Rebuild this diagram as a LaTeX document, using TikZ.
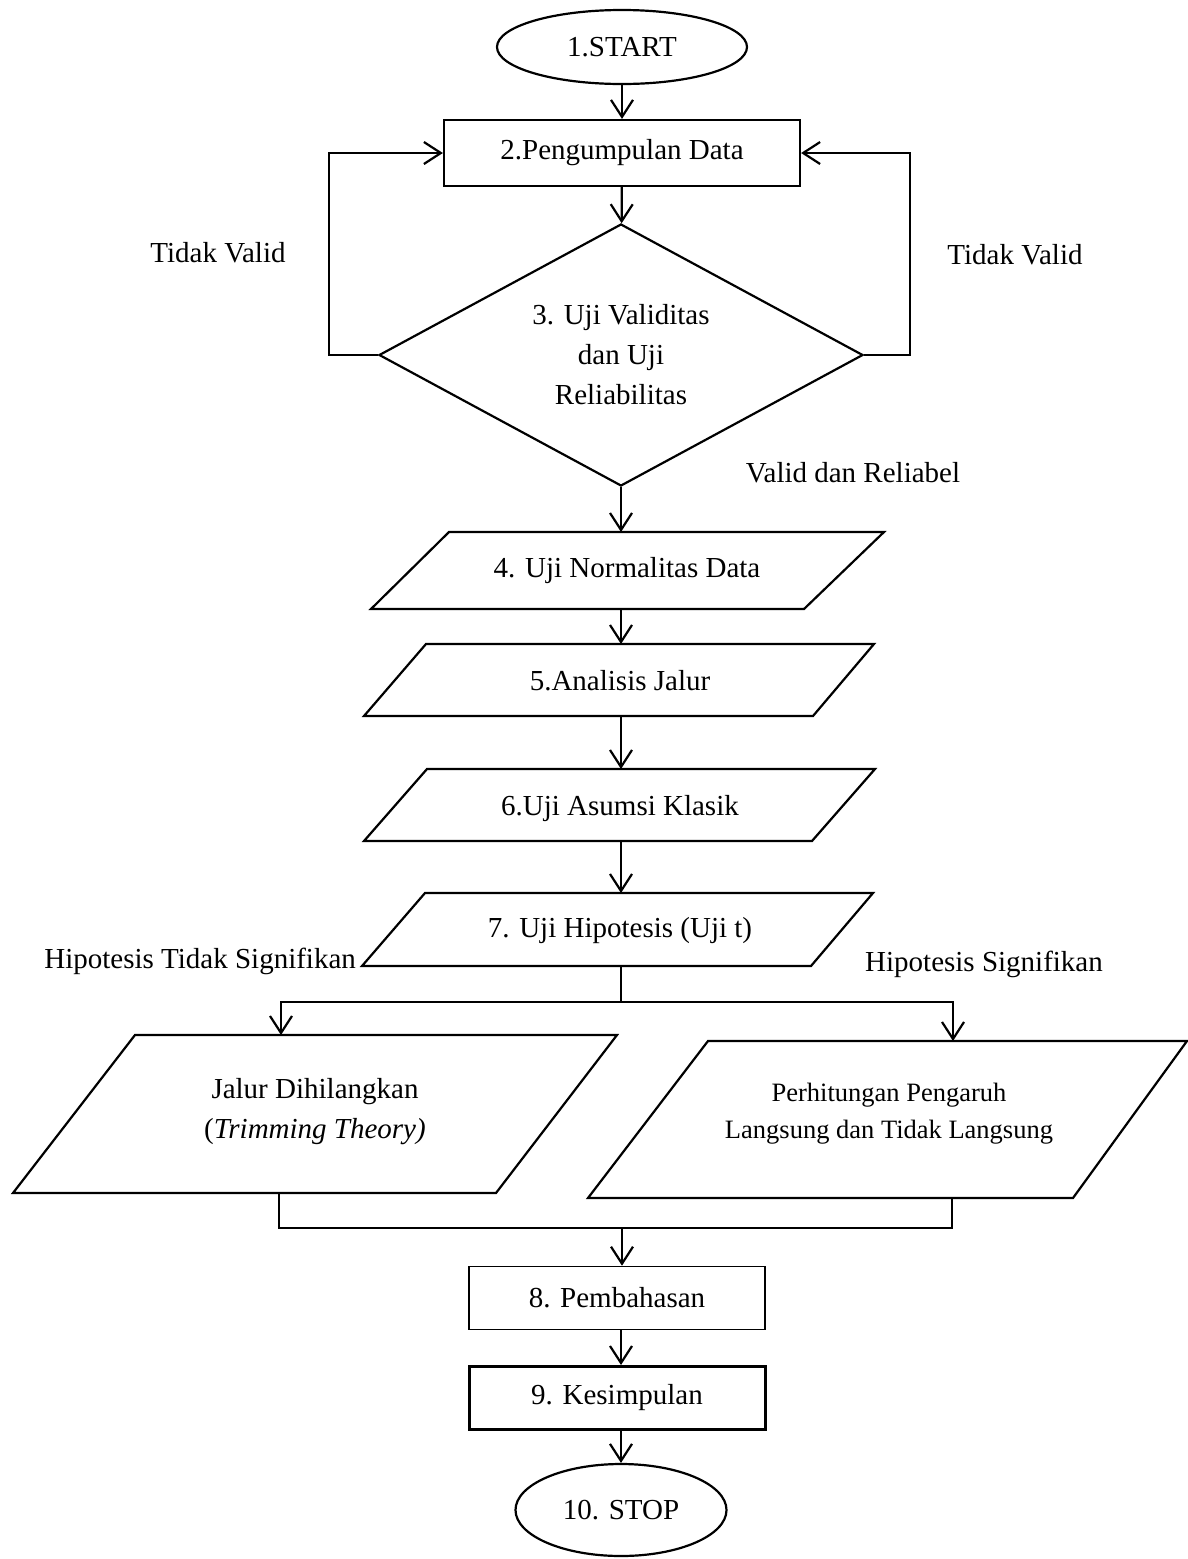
\documentclass[tikz,border=0pt]{standalone}
\usepackage{fontspec}
\setmainfont{Liberation Serif}
\usetikzlibrary{shapes.geometric,arrows.meta}
\begin{document}
\begin{tikzpicture}[x=1pt,y=-1pt, line width=2.2pt,
  every node/.style={font=\fontsize{29}{40}\selectfont, inner sep=0pt},
  arr/.style={-{Straight Barb[length=17pt,width=22pt]}},
  procbox/.style={draw, rectangle, minimum width=356pt, minimum height=66pt},
  smallbox/.style={draw, rectangle, minimum width=296pt, minimum height=63pt},
  term/.style={draw, ellipse},
  decision/.style={draw, diamond, aspect=2, minimum width=484pt, minimum height=262pt, align=center},
  iobox/.style={line join=miter},
  lbl/.style={align=center}]
\useasboundingbox (0,0) rectangle (1188,1559);
\fill[white] (0,0) rectangle (1188,1559);

% terminals and boxes
\node[term, minimum width=250pt, minimum height=74pt] (start) at (622,47) {1.START};
\node[procbox] (n2) at (622,153) {2.Pengumpulan Data};
\node[decision] (n3) at (621,355) {3. Uji Validitas\\dan Uji\\Reliabilitas};

% parallelograms
\draw[iobox] (449,532) -- (884,532) -- (804,609) -- (371,609) -- cycle;
\node (p4) at (627,571) {4. Uji Normalitas Data};
\coordinate (p4t) at (621,532); \coordinate (p4b) at (621,609);

\draw[iobox] (426,644) -- (874,644) -- (813,716) -- (364,716) -- cycle;
\node (p5) at (620,681) {5.Analisis Jalur};
\coordinate (p5t) at (621,644); \coordinate (p5b) at (621,716);

\draw[iobox] (427,769) -- (875,769) -- (812,841) -- (364,841) -- cycle;
\node (p6) at (620,809) {6.Uji Asumsi Klasik};
\coordinate (p6t) at (621,769); \coordinate (p6b) at (621,841);

\draw[iobox] (425,893) -- (873,893) -- (811,966) -- (362,966) -- cycle;
\node (p7) at (620,931) {7. Uji Hipotesis (Uji t)};
\coordinate (p7t) at (621,893); \coordinate (p7b) at (621,966);

\draw[iobox] (135,1035) -- (617,1035) -- (496,1193) -- (13,1193) -- cycle;
\node[lbl] (pL) at (315,1112) {Jalur Dihilangkan\\(\textit{Trimming Theory)}};
\coordinate (pLt) at (281,1035); \coordinate (pLb) at (279,1193);

\draw[iobox] (708,1041) -- (1187,1041) -- (1073,1198) -- (588,1198) -- cycle;
\node[lbl, font=\fontsize{26.5}{37}\selectfont] (pR) at (889,1114) {Perhitungan Pengaruh\\Langsung dan Tidak Langsung};
\coordinate (pRt) at (953,1041); \coordinate (pRb) at (952,1198);

\node[smallbox, line width=1.6pt] (n8) at (617,1298) {8. Pembahasan};
\node[smallbox, line width=3pt] (n9) at (617,1398) {9. Kesimpulan};
\node[term, minimum width=211pt, minimum height=92pt] (stop) at (621,1510) {10. STOP};

% labels
\node (tvl) at (218,253) {Tidak Valid};
\node (tvr) at (1015,255) {Tidak Valid};
\node (vr) at (853,473) {Valid dan Reliabel};
\node[anchor=east] (hts) at (357,961) {Hipotesis Tidak Signifikan};
\node (hs) at (984,964) {Hipotesis Signifikan};

% connectors
\coordinate (ax) at (621,0);
\draw[arr] (start) -- (n2);
\draw[arr] (n2) -- (n3);
\draw[arr] (n3.west) -- ++(-49,0) |- (n2.west);
\draw[arr] (n3.east) -- ++(46,0) |- (n2.east);
\draw[arr] (n3.south) -- (p4t);
\draw[arr] (p4b) -- (p5t);
\draw[arr] (p5b) -- (p6t);
\draw[arr] (p6b) -- (p7t);
\coordinate (br) at (621,1002);
\draw (p7b) -- (br);
\draw[arr] (br) -| (pLt);
\draw[arr] (br) -| (pRt);
\coordinate (mg) at (622,1228);
\draw (pLb) |- (mg);
\draw (pRb) |- (mg);
\draw[arr] (mg) -- (mg |- n8.north);
\draw[arr] (ax |- n8.south) -- (ax |- n9.north);
\draw[arr] (stop.north |- n9.south) -- (stop.north);
\end{tikzpicture}
\end{document}
